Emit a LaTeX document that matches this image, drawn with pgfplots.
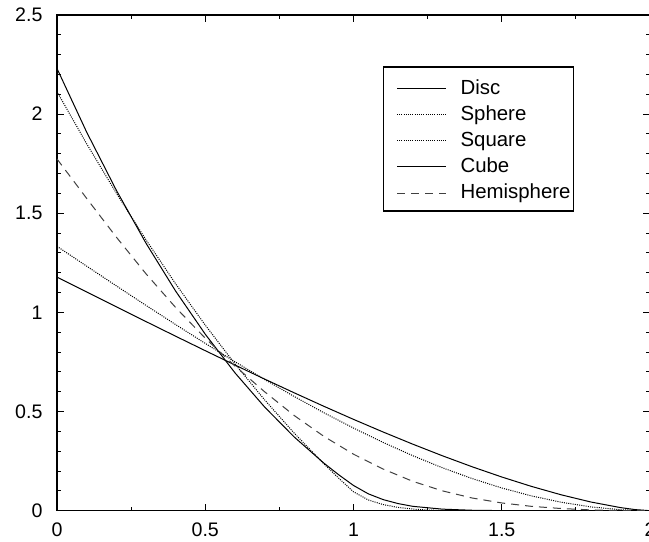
\documentclass[border=0pt]{standalone}
\usepackage{pgfplots}
\pgfplotsset{compat=1.18}
\usepackage{fontspec}
\setmainfont{Liberation Sans}
\begin{document}
\begin{tikzpicture}
\begin{axis}[
  scale only axis,
  width=296.5pt, height=247.85pt,
  xmin=0, xmax=2, ymin=0, ymax=2.5,
  xtick={0,0.5,1,1.5,2}, ytick={0,0.5,1,1.5,2,2.5},
  minor x tick num=1, minor y tick num=4,
  tick align=inside,
  major tick length=3.4pt, minor tick length=2pt,
  axis line style={line width=0.6pt},
  every tick/.style={line width=0.5pt, black},
  /pgf/number format/assume math mode=true,
  tick label style={font=\fontsize{9.8}{11}\selectfont},
  every y tick label/.append style={xshift=-3.75pt},
  every x tick label/.append style={yshift=-2.7pt},
  legend cell align=left,
  legend image code/.code={\path (0pt,0pt) (29.5pt,0pt); \draw[#1] (5pt,-0.9pt) -- (29.5pt,-0.9pt);},
  legend style={at={(rel axis cs:0.5497,0.8961)}, anchor=north west,
    draw=black, line width=0.6pt,
    font=\fontsize{10.2}{12}\selectfont,
    inner xsep=1.5pt, inner ysep=6.2pt,
    row sep=5.65pt, column sep=7pt,
    nodes={inner sep=0pt, text height=7.4pt, text depth=0pt}},
]
\coordinate (bbsw) at (rel axis cs:-0.09612,-0.06314);
\coordinate (bbne) at (rel axis cs:0.99831,1.03026);
% Disc
\addplot[black, line width=0.5pt] coordinates {
(0,1.1781) (0.1,1.1031) (0.2,1.0283) (0.3,0.9539) (0.4,0.8801) (0.5,0.8070)
(0.6,0.7349) (0.7,0.6640) (0.8,0.5945) (0.9,0.5266) (1.0,0.4606) (1.1,0.3968)
(1.2,0.3355) (1.3,0.2769) (1.4,0.2216) (1.5,0.1700) (1.6,0.1226) (1.7,0.0803)
(1.8,0.0440) (1.9,0.0157) (1.95,0.0055) (2.0,0)};
\addlegendentry{Disc}
% Sphere
\addplot[black, line width=0.5pt, dash pattern=on 0.5pt off 0.6pt] coordinates {
(0,1.3333) (0.1,1.2334) (0.2,1.1340) (0.3,1.0356) (0.4,0.9387) (0.5,0.8438)
(0.6,0.7513) (0.7,0.6619) (0.8,0.5760) (0.9,0.4941) (1.0,0.4167) (1.1,0.3443)
(1.2,0.2773) (1.3,0.2164) (1.4,0.1620) (1.5,0.1146) (1.6,0.0747) (1.7,0.0428)
(1.8,0.0193) (1.9,0.0049) (2.0,0)};
\addlegendentry{Sphere}
% Square
\addplot[black, line width=0.5pt, dash pattern=on 0.5pt off 0.6pt] coordinates {
(0,2.113) (0.1,1.8507) (0.2,1.6018) (0.3,1.3664) (0.4,1.1445) (0.5,0.9360)
(0.6,0.7409) (0.7,0.5593) (0.8,0.3912) (0.9,0.2365) (0.95,0.1642) (1.0,0.0952)
(1.05,0.0542) (1.1,0.0308) (1.15,0.0165) (1.2,0.0082) (1.25,0.0034) (1.3,0.0012)
(1.35,0.0002) (1.414,0)};
\addlegendentry{Square}
% Cube
\addplot[black, line width=0.5pt] coordinates {
(0,2.23) (0.1,1.9095) (0.2,1.6164) (0.3,1.3495) (0.4,1.1078) (0.5,0.8902)
(0.6,0.6957) (0.7,0.5233) (0.8,0.3717) (0.9,0.2401) (0.95,0.1813) (1.0,0.1272)
(1.05,0.0850) (1.1,0.0560) (1.15,0.0360) (1.2,0.0220) (1.3,0.0078) (1.4,0.0022)
(1.5,0.0004) (1.6,0)};
\addlegendentry{Cube}
% Hemisphere
\addplot[black!75, line width=0.5pt, dash pattern=on 4pt off 3pt] coordinates {
(0,1.774) (0.1,1.575) (0.2,1.38) (0.3,1.195) (0.4,1.025) (0.5,0.87)
(0.6,0.73) (0.7,0.60) (0.8,0.48) (0.9,0.375) (1.0,0.285) (1.1,0.21)
(1.2,0.148) (1.3,0.10) (1.4,0.064) (1.5,0.039) (1.6,0.022) (1.7,0.011)
(1.8,0.004) (1.9,0.001) (2.0,0)};
\addlegendentry{Hemisphere}
\end{axis}
\pgfresetboundingbox
\useasboundingbox (bbsw) rectangle (bbne);
\end{tikzpicture}
\end{document}
